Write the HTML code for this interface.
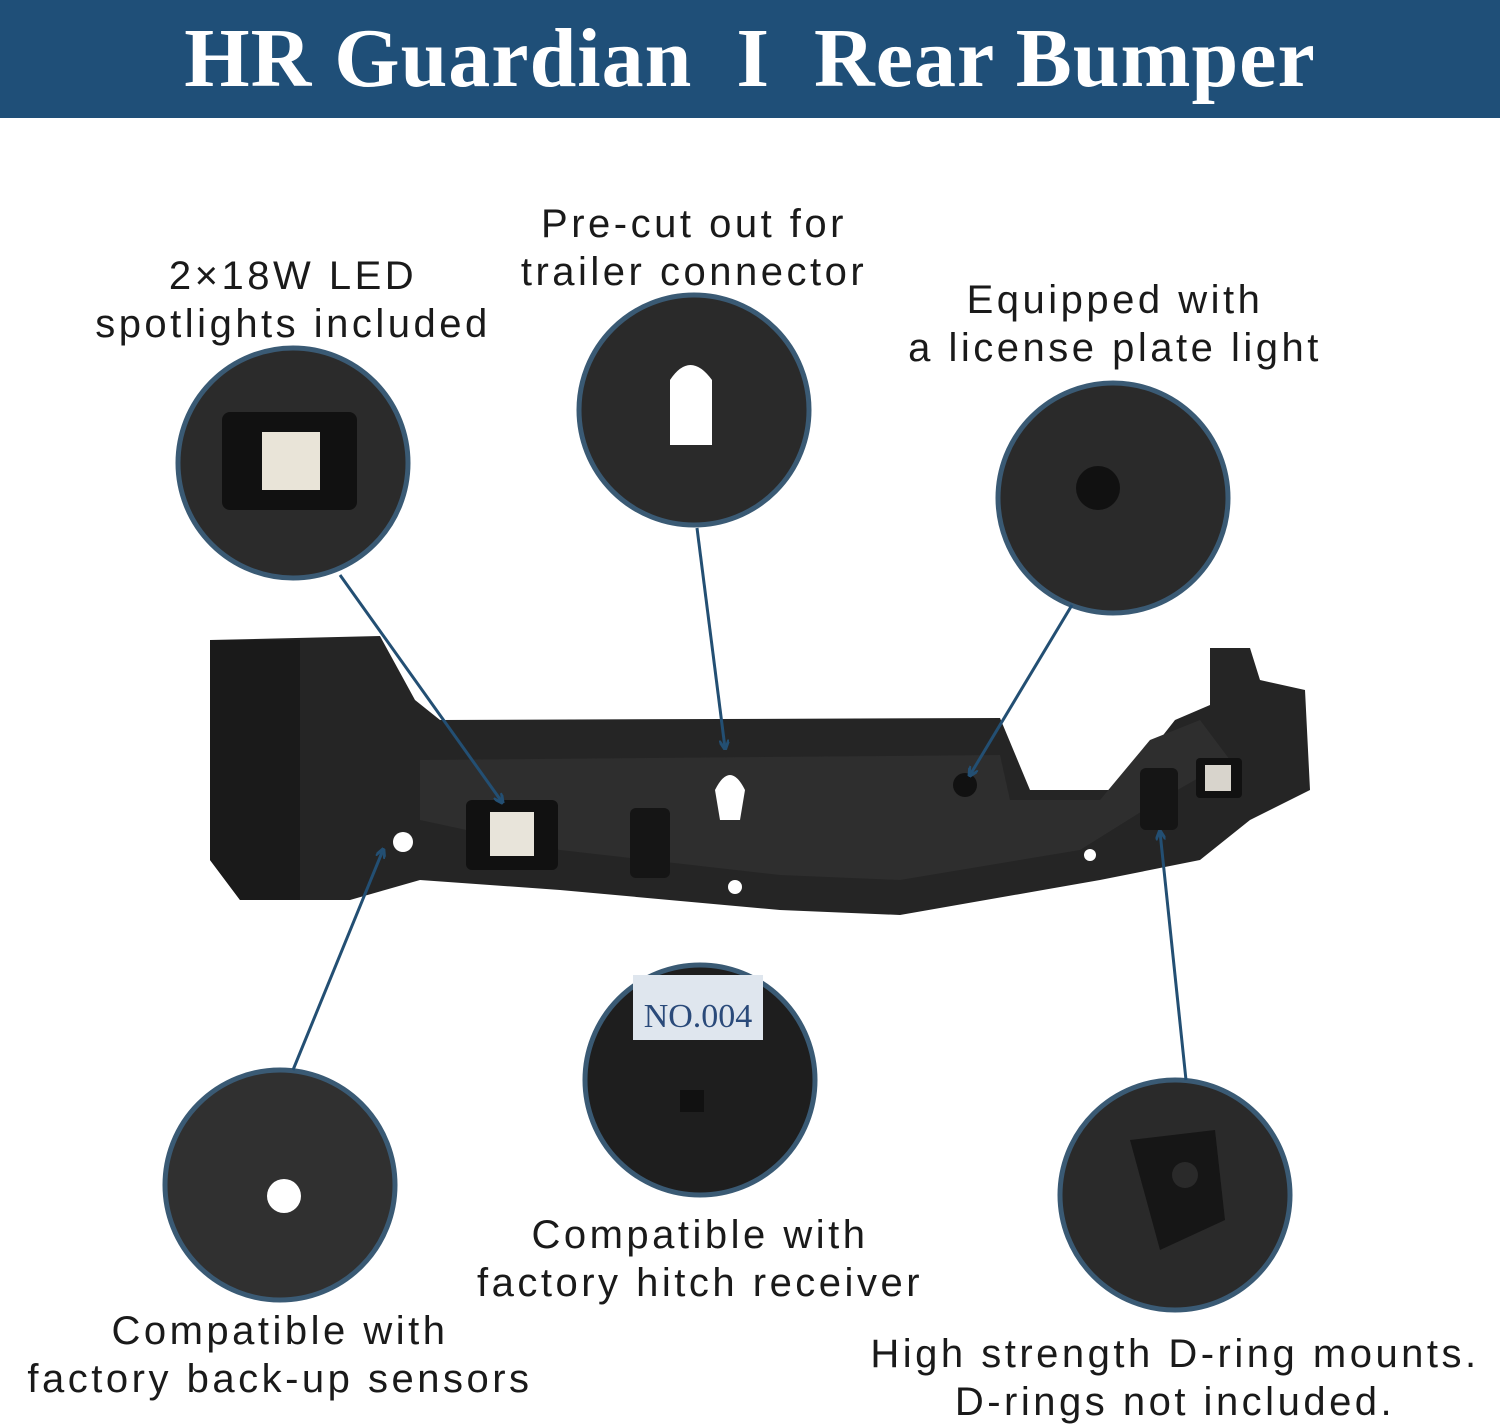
<!DOCTYPE html>
<html><head><meta charset="utf-8"><style>
html,body{margin:0;padding:0;background:#fff;}
body{width:1500px;height:1427px;position:relative;overflow:hidden;font-family:"Liberation Sans","DejaVu Sans",sans-serif;}
.hdr{position:absolute;left:0;top:0;width:1500px;height:118px;background:#1f4f78;color:#fff;font-family:"Liberation Serif",serif;font-weight:bold;font-size:84px;line-height:118px;text-align:center;letter-spacing:1px;white-space:nowrap;}
.t{position:absolute;color:#1a1a1a;font-size:40px;line-height:48px;text-align:center;letter-spacing:3.5px;white-space:nowrap;}
svg{position:absolute;left:0;top:0;}
</style></head><body>
<div class="hdr">HR Guardian &nbsp;I&nbsp; Rear Bumper</div>
<svg width="1500" height="1427" viewBox="0 0 1500 1427">
<defs>
<marker id="a" markerWidth="10" markerHeight="10" refX="8" refY="5" orient="auto" markerUnits="userSpaceOnUse"><path d="M0,0 L10,5 L0,10" fill="none" stroke="#234f73" stroke-width="3"/></marker>
</defs>
<path d="M210,640 L380,636 L415,700 L440,720 L1000,718 L1030,790 L1120,790 L1175,720 L1210,705 L1210,648 L1250,648 L1260,680 L1305,690 L1310,790 L1250,820 L1200,860 L1100,880 L900,915 L780,910 L560,890 L420,880 L350,900 L240,900 L210,860 Z" fill="#252525"/>
<path d="M210,640 L300,640 L300,900 L240,900 L210,860 Z" fill="#1a1a1a"/>
<path d="M420,760 L1000,755 L1010,800 L1100,800 L1150,740 L1200,720 L1230,760 L1160,800 L1080,850 L900,880 L780,875 L560,850 L420,820 Z" fill="#2e2e2e"/>
<rect x="466" y="800" width="92" height="70" rx="6" fill="#111"/>
<rect x="490" y="812" width="44" height="44" fill="#e8e4da"/>
<rect x="1196" y="758" width="46" height="40" rx="4" fill="#111"/>
<rect x="1205" y="765" width="26" height="26" fill="#d8d4cc"/>
<circle cx="403" cy="842" r="10" fill="#fff"/>
<circle cx="735" cy="887" r="7" fill="#fff"/>
<circle cx="1090" cy="855" r="6" fill="#fff"/>
<path d="M715,790 Q730,760 745,790 L740,820 L720,820 Z" fill="#fff"/>
<rect x="630" y="808" width="40" height="70" rx="6" fill="#151515"/>
<rect x="1140" y="768" width="38" height="62" rx="6" fill="#151515"/>
<circle cx="965" cy="785" r="12" fill="#111"/>
<g stroke="#3a5a74" stroke-width="5">
<circle cx="293" cy="463" r="115" fill="#2b2b2b"/>
<circle cx="694" cy="410" r="115" fill="#2a2a2a"/>
<circle cx="1113" cy="498" r="115" fill="#2a2a2a"/>
<circle cx="280" cy="1185" r="115" fill="#303030"/>
<circle cx="700" cy="1080" r="115" fill="#1e1e1e"/>
<circle cx="1175" cy="1195" r="115" fill="#2a2a2a"/>
</g>
<rect x="222" y="412" width="135" height="98" rx="8" fill="#111"/>
<rect x="262" y="432" width="58" height="58" fill="#e9e4d8"/>
<path d="M670,380 Q690,350 712,380 L712,445 L670,445 Z" fill="#fff"/>
<circle cx="1098" cy="488" r="22" fill="#111"/>
<circle cx="284" cy="1196" r="17" fill="#fff"/>
<rect x="633" y="975" width="130" height="65" fill="#dfe6ee"/>
<text x="698" y="1027" font-family="Liberation Serif,serif" font-size="34" fill="#2a4a7a" text-anchor="middle">NO.004</text>
<rect x="680" y="1090" width="24" height="22" fill="#111"/>
<path d="M1130,1140 L1215,1130 L1225,1220 L1160,1250 Z" fill="#161616"/>
<circle cx="1185" cy="1175" r="13" fill="#2a2a2a"/>
<g stroke="#234f73" stroke-width="3" fill="none" marker-end="url(#a)">
<line x1="340" y1="575" x2="502" y2="802"/>
<line x1="697" y1="528" x2="725" y2="748"/>
<line x1="1072" y1="605" x2="970" y2="775"/>
<line x1="293" y1="1070" x2="383" y2="850"/>
<line x1="1186" y1="1080" x2="1160" y2="832"/>
</g>
</svg>
<div class="t" style="left:43px;top:252px;width:500px;">2×18W LED<br>spotlights included</div>
<div class="t" style="left:444px;top:200px;width:500px;">Pre-cut out for<br>trailer connector</div>
<div class="t" style="left:865px;top:276px;width:500px;">Equipped with<br>a license plate light</div>
<div class="t" style="left:0px;top:1307px;width:560px;">Compatible with<br>factory back-up sensors</div>
<div class="t" style="left:400px;top:1211px;width:600px;">Compatible with<br>factory hitch receiver</div>
<div class="t" style="left:835px;top:1330px;width:680px;">High strength D-ring mounts.<br>D-rings not included.</div>
</body></html>
